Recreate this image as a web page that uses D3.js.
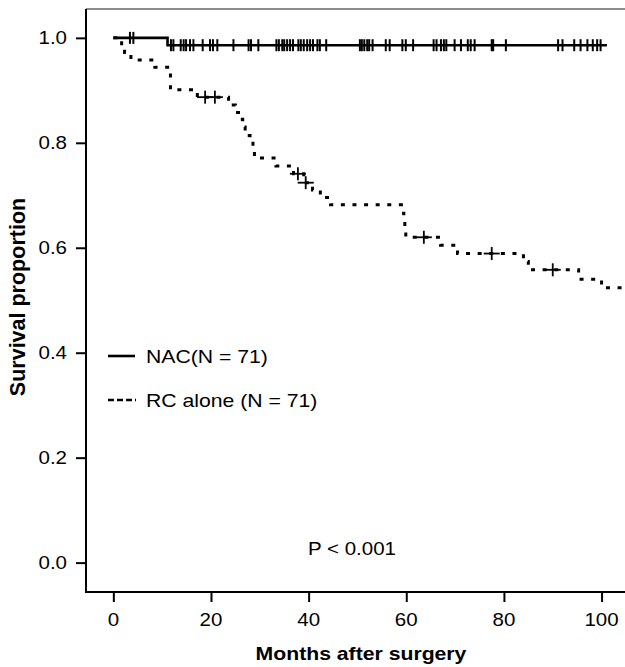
<!DOCTYPE html>
<html lang="en">
<head>
  <meta charset="UTF-8">
  <title>Survival by treatment</title>
  <style>
    body { margin: 0; background: #fff; overflow: hidden; }
    svg { display: block; font-family: "Liberation Sans", Arial, sans-serif; }
    .axis path, .axis line { stroke: #000; stroke-width: 2px; }
  </style>
</head>
<body>
  <script src="https://d3js.org/d3.v7.min.js"></script>
  <script>
    // step points: [month, survival after the drop]
    const nacSteps = [[0, 1.0], [11.1, 0.986]];
    const nacEnd = 101.1;
    const nacCensored = [3.4, 4.1, 11.8, 12.3, 13.8, 14.4, 14.9, 15.7, 16.4, 18.3, 19.8, 20.4, 21.3, 24.6,
      27.7, 28.2, 29.7, 33.4, 33.9, 34.6, 35.0, 35.6, 36.2, 36.8, 37.9, 38.4, 39.0, 39.7, 40.3, 40.9,
      41.8, 42.3, 43.6, 50.5, 50.9, 51.4, 52.0, 52.4, 53.1, 55.8, 56.6, 59.2, 59.9, 61.4, 65.6, 66.2,
      67.1, 67.7, 68.2, 69.9, 71.2, 72.6, 73.2, 74.0, 77.5, 77.8, 80.4, 91.1, 92.0, 94.4, 95.7, 97.1,
      98.2, 99.1, 99.8];

    const rcSteps = [[0, 1.0], [1.7, 0.986], [2.3, 0.972], [3.6, 0.958], [8.5, 0.944], [11.7, 0.901],
      [17.2, 0.887], [23.6, 0.872], [25.0, 0.858], [26.0, 0.845], [26.5, 0.830], [27.0, 0.814],
      [28.0, 0.799], [28.6, 0.785], [28.9, 0.771], [33.3, 0.756], [36.9, 0.741], [39.0, 0.724],
      [40.8, 0.710], [42.4, 0.696], [44.5, 0.682], [59.0, 0.666], [59.5, 0.650], [59.7, 0.635],
      [59.9, 0.620], [67.0, 0.605], [70.5, 0.589], [84.0, 0.574], [85.0, 0.558], [95.3, 0.540],
      [100.0, 0.524]];
    const rcEnd = 104.8;
    const rcCensored = [18.8, 20.8, 37.8, 39.4, 63.6, 77.5, 90.0];

    const xTicks = [0, 20, 40, 60, 80, 100];
    const yTicks = [0.0, 0.2, 0.4, 0.6, 0.8, 1.0];
    const legendLabels = ["NAC(N = 71)", "RC alone (N = 71)"];
    const pText = "P < 0.001";

    const width = 625, height = 667;
    const stretch = 1.14; // the figure's text is slightly wide

    const x = d3.scaleLinear().domain([-5.6, 104.8]).range([86, 625]);
    const y = d3.scaleLinear().domain([-0.056, 1.055]).range([592, 9]);

    const svg = d3.select("body").append("svg").attr("width", width).attr("height", height);

    const label = (px, py, str, size, anchor, weight) => {
      svg.append("g").attr("transform", `translate(${px},${py}) scale(${stretch},1)`)
        .append("text")
        .attr("text-anchor", anchor)
        .attr("font-size", size)
        .attr("font-weight", weight || "normal")
        .attr("fill", "#000")
        .text(str);
    };

    // top frame line
    svg.append("line").attr("x1", 86).attr("x2", width).attr("y1", 9).attr("y2", 9)
      .attr("stroke", "#666").attr("stroke-width", 1.4);

    // axes
    const xAxis = svg.append("g").attr("class", "axis")
      .attr("transform", "translate(0,592)")
      .call(d3.axisBottom(x).tickValues(xTicks).tickSize(10).tickSizeOuter(0).tickFormat(""));
    xAxis.select(".domain").attr("d", `M86,0H${width}`);

    const yAxis = svg.append("g").attr("class", "axis")
      .attr("transform", "translate(86,0)")
      .call(d3.axisLeft(y).tickValues(yTicks).tickSize(10).tickSizeOuter(0).tickFormat(""));
    yAxis.select(".domain").attr("d", "M0,9V593");

    xTicks.forEach(t => label(x(t), 626, String(t), 18, "middle"));
    yTicks.forEach(t => label(67, y(t) + 6.5, t.toFixed(1), 18, "end"));

    label(361, 660, "Months after surgery", 18.6, "middle", "bold");
    svg.append("text")
      .attr("transform", "translate(25,297) rotate(-90)")
      .attr("text-anchor", "middle").attr("font-size", 21.5).attr("font-weight", "bold")
      .text("Survival proportion");

    // step path helper
    const stepLine = d3.line().x(d => x(d[0])).y(d => y(d[1])).curve(d3.curveStepAfter);
    const withEnd = (steps, end) => steps.concat([[end, steps[steps.length - 1][1]]]);
    const survivalAt = (steps, t) => {
      let s = steps[0][1];
      steps.forEach(d => { if (d[0] <= t) s = d[1]; });
      return s;
    };

    svg.append("defs").append("clipPath").attr("id", "plot-clip")
      .append("rect").attr("x", 86).attr("y", 9).attr("width", width - 86).attr("height", 583);

    const plot = svg.append("g").attr("clip-path", "url(#plot-clip)");

    plot.append("path").datum(withEnd(rcSteps, rcEnd))
      .attr("d", stepLine).attr("fill", "none").attr("stroke", "#000")
      .attr("stroke-width", 3).attr("stroke-dasharray", "4,7.6");

    plot.append("path").datum(withEnd(nacSteps, nacEnd))
      .attr("d", stepLine).attr("fill", "none").attr("stroke", "#000")
      .attr("stroke-width", 2.6);

    // censor marks
    plot.append("g").selectAll("line").data(nacCensored).join("line")
      .attr("x1", d => x(d)).attr("x2", d => x(d))
      .attr("y1", d => y(survivalAt(nacSteps, d)) - 6)
      .attr("y2", d => y(survivalAt(nacSteps, d)) + 6)
      .attr("stroke", "#000").attr("stroke-width", 2);

    const rcMarks = plot.append("g").selectAll("g").data(rcCensored).join("g")
      .attr("transform", d => `translate(${x(d)},${y(survivalAt(rcSteps, d))})`);
    rcMarks.append("line").attr("x1", -8).attr("x2", 8).attr("stroke", "#000").attr("stroke-width", 1.8);
    rcMarks.append("line").attr("y1", -6.5).attr("y2", 6.5).attr("stroke", "#000").attr("stroke-width", 1.8);

    // legend
    const legendY = [356, 400];
    svg.append("line").attr("x1", 108).attr("x2", 135).attr("y1", legendY[0]).attr("y2", legendY[0])
      .attr("stroke", "#000").attr("stroke-width", 2.6);
    svg.append("line").attr("x1", 108).attr("x2", 136).attr("y1", legendY[1]).attr("y2", legendY[1])
      .attr("stroke", "#000").attr("stroke-width", 2.6).attr("stroke-dasharray", "6,3");
    legendLabels.forEach((t, i) => label(146, legendY[i] + 6.5, t, 18.6, "start"));

    label(352, 555, pText, 18, "middle");
  </script>
</body>
</html>
